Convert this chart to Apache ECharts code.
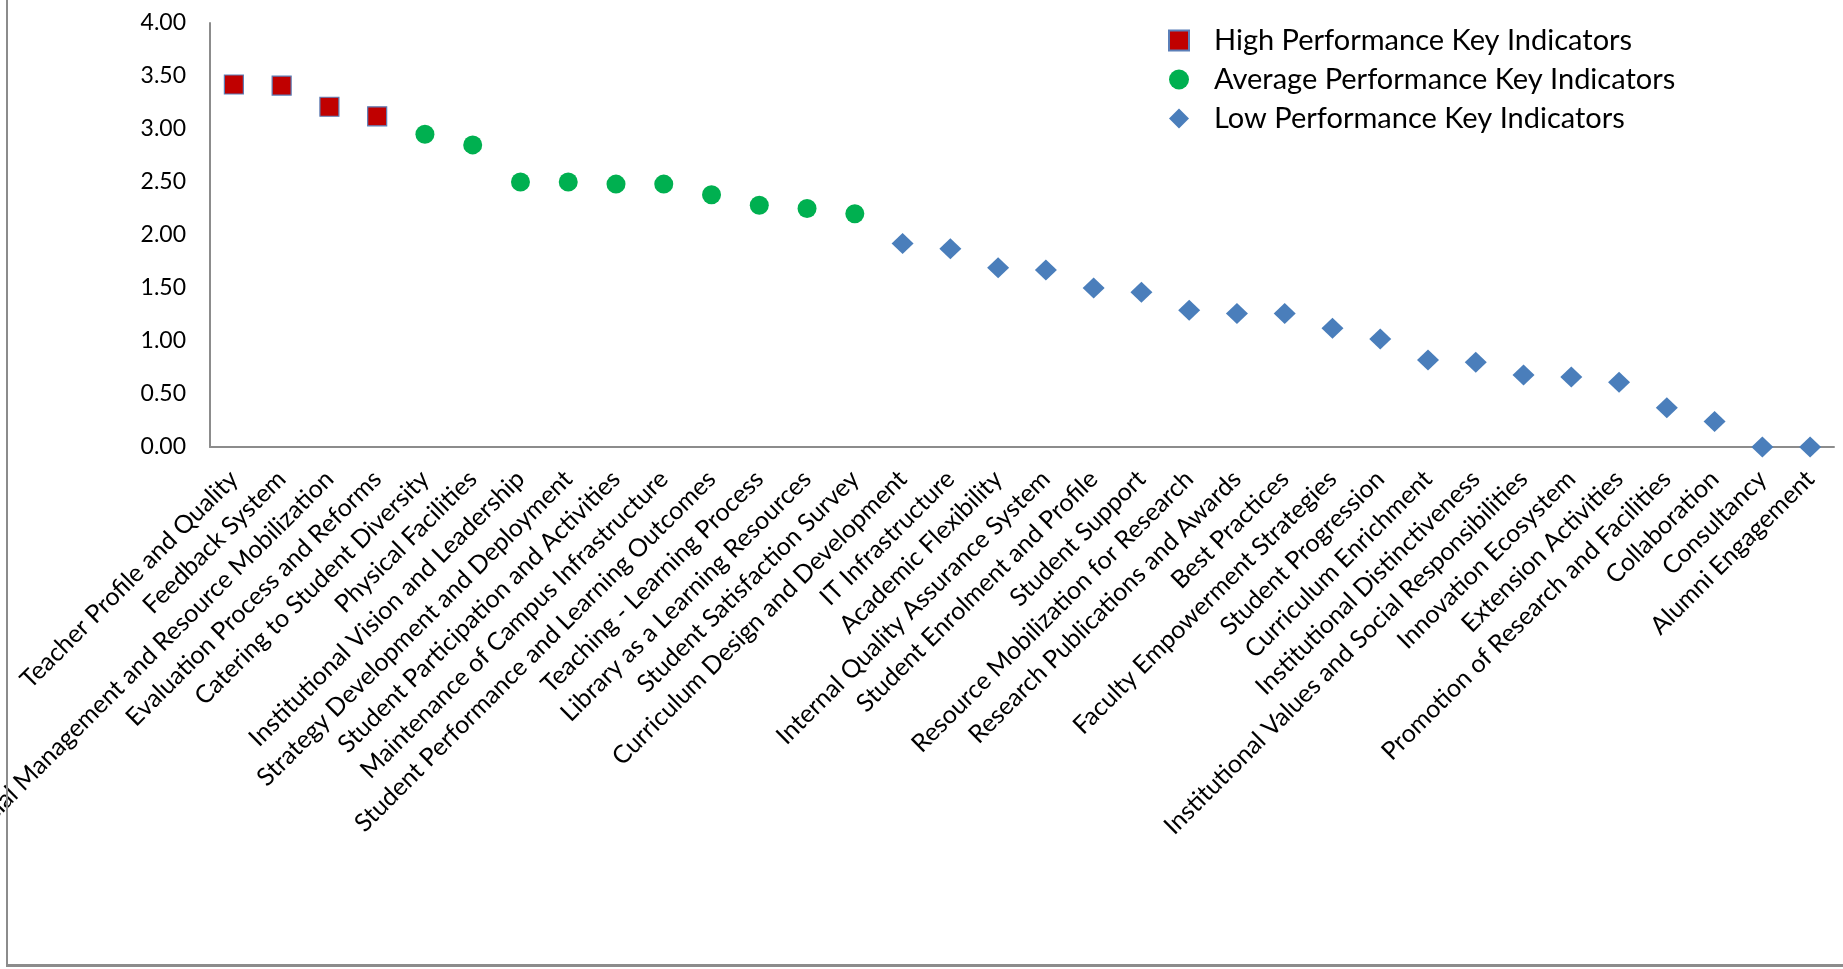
<!DOCTYPE html>
<html>
<head>
<meta charset="utf-8">
<script src="https://cdn.jsdelivr.net/npm/echarts@6/dist/echarts.min.js"></script>
<style>
html,body{margin:0;padding:0;background:#fff;}
#wrap{position:relative;width:1843px;height:969px;overflow:hidden;}
#chart{position:absolute;left:0;top:0;width:1843px;height:969px;}
#frame{position:absolute;left:6px;top:-2px;width:1850px;height:969px;box-sizing:border-box;border-left:2px solid #8c8c8c;border-bottom:3px solid #8c8c8c;pointer-events:none;}
</style>
</head>
<body>
<div id="wrap"><div id="chart"></div><div id="frame"></div></div>
<script>
const categories = [
  'Teacher Profile and Quality','Feedback System','Financial Management and Resource Mobilization',
  'Evaluation Process and Reforms','Catering to Student Diversity','Physical Facilities',
  'Institutional Vision and Leadership','Strategy Development and Deployment',
  'Student Participation and Activities','Maintenance of Campus Infrastructure',
  'Student Performance and Learning Outcomes','Teaching - Learning Process',
  'Library as a Learning Resources','Student Satisfaction Survey','Curriculum Design and Development',
  'IT Infrastructure','Academic Flexibility','Internal Quality Assurance System',
  'Student Enrolment and Profile','Student Support','Resource Mobilization for Research',
  'Research Publications and Awards','Best Practices','Faculty Empowerment Strategies',
  'Student Progression','Curriculum Enrichment','Institutional Distinctiveness',
  'Institutional Values and Social Responsibilities','Innovation Ecosystem','Extension Activities',
  'Promotion of Research and Facilities','Collaboration','Consultancy','Alumni Engagement'
];
const highValues = [3.42, 3.41, 3.21, 3.12];
const averageValues = [2.95, 2.85, 2.50, 2.50, 2.48, 2.48, 2.38, 2.28, 2.25, 2.20];
const lowValues = [1.92, 1.87, 1.69, 1.67, 1.50, 1.46, 1.29, 1.26, 1.26, 1.12, 1.02, 0.82, 0.80, 0.68, 0.66, 0.61, 0.37, 0.24, 0, 0];
const yTicks = [0, 0.5, 1, 1.5, 2, 2.5, 3, 3.5, 4];

const FONT = 'Lato, "Open Sans", sans-serif';
function place(values, offset){ return values.map((v,i)=>[offset+i, v]); }
const highData = place(highValues, 0);
const avgData = place(averageValues, highValues.length);
const lowData = place(lowValues, highValues.length + averageValues.length);

const chart = echarts.init(document.getElementById('chart'), null, {renderer:'canvas'});
chart.setOption({
  animation:false,
  backgroundColor:'#ffffff',
  grid:{left:210, right:9, top:23, bottom:522, containLabel:false, outerBoundsMode:'none'},
  legend:{
    orient:'vertical', left:1163, top:21,
    itemWidth:20, itemHeight:20, itemGap:10,
    textStyle:{fontFamily:FONT, fontSize:29, color:'#000', padding:[0,0,0,20]},
    data:[
      {name:'High Performance Key Indicators', icon:'rect'},
      {name:'Average Performance Key Indicators', icon:'circle'},
      {name:'Low Performance Key Indicators', icon:'diamond'}
    ]
  },
  xAxis:{
    type:'category', data:categories, boundaryGap:true,
    axisLine:{lineStyle:{color:'#8c8c8c', width:2}},
    axisTick:{show:false},
    axisLabel:{interval:0, rotate:45, margin:28, fontFamily:FONT, fontSize:25, color:'#000'},
    splitLine:{show:false}
  },
  yAxis:{
    type:'value', min:yTicks[0], max:yTicks[yTicks.length-1], interval:yTicks[1]-yTicks[0],
    axisLine:{show:true, lineStyle:{color:'#8c8c8c', width:2}},
    axisTick:{show:false},
    splitLine:{show:false},
    axisLabel:{margin:24, fontFamily:FONT, fontSize:23, color:'#000', formatter:v=>v.toFixed(2)}
  },
  series:[
    {name:'High Performance Key Indicators', type:'scatter', data:highData, symbol:'rect', symbolSize:19,
     itemStyle:{color:'#C00000', borderColor:'#5b7fb8', borderWidth:1.2, opacity:1}, z:3},
    {name:'Average Performance Key Indicators', type:'scatter', data:avgData, symbol:'circle', symbolSize:19,
     itemStyle:{color:'#00B050', opacity:1}, z:3},
    {name:'Low Performance Key Indicators', type:'scatter', data:lowData, symbol:'diamond', symbolSize:[22,21],
     itemStyle:{color:'#4A7EBB', opacity:1}, z:3}
  ]
});
</script>
</body>
</html>
